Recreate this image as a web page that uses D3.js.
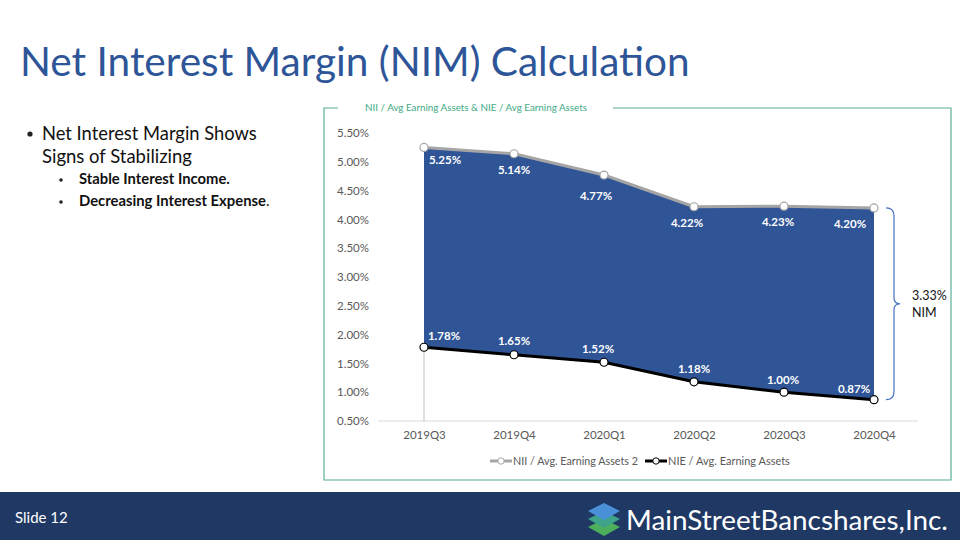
<!DOCTYPE html>
<html>
<head>
<meta charset="utf-8">
<script src="https://cdn.jsdelivr.net/npm/d3@7"></script>
<style>
  body { margin: 0; background: #fff; }
  svg { display: block; font-family: Lato, "Open Sans", sans-serif; }
</style>
</head>
<body>
<div id="slide"></div>
<script>
// chart values
let quarters = ["2019Q3", "2019Q4", "2020Q1", "2020Q2", "2020Q3", "2020Q4"];
let niiValues = [5.25, 5.14, 4.77, 4.22, 4.23, 4.20];
let nieValues = [1.78, 1.65, 1.52, 1.18, 1.00, 0.87];
let yTicks = [0.5, 1.0, 1.5, 2.0, 2.5, 3.0, 3.5, 4.0, 4.5, 5.0, 5.5];
let nimLabel = ["3.33%", "NIM"];
let legendNames = ["NII / Avg. Earning Assets 2", "NIE / Avg. Earning Assets"];

// label nudges (Excel placed them to avoid overlap)
let niiDx = [21, 0, -8, -7, -6, -24], niiDy = [17, 20, 25, 20, 20, 20];
let nieDx = [20, 0, -6, 0, -1, -20], nieDy = [-7, -10, -9, -9, -8, -7];

const W = 960, H = 540;
let svg = d3.select("#slide").append("svg")
    .attr("width", W).attr("height", H);

// fit text to a width by scaling font size
function fit(sel, width) {
    let len = sel.node().getComputedTextLength();
    let fs = parseFloat(sel.attr("font-size"));
    sel.attr("font-size", fs * width / len);
    return sel;
}

// title
fit(svg.append("text")
    .attr("x", 20).attr("y", 76)
    .attr("font-size", 40)
    .attr("fill", "#2E5597")
    .text("Net Interest Margin (NIM) Calculation"), 670);

// bullets
svg.append("circle").attr("cx", 30).attr("cy", 134).attr("r", 2.6).attr("fill", "#222");
fit(svg.append("text").attr("x", 42).attr("y", 140).attr("font-size", 17).attr("fill", "#111")
    .text("Net Interest Margin Shows"), 215);
fit(svg.append("text").attr("x", 42).attr("y", 163).attr("font-size", 17).attr("fill", "#111")
    .text("Signs of Stabilizing"), 150);
[["Stable Interest Income.", 184, 151], ["Decreasing Interest Expense", 206, 187]].forEach(b => {
    svg.append("circle").attr("cx", 61).attr("cy", b[1] - 4).attr("r", 1.8).attr("fill", "#222");
    let t = svg.append("text").attr("x", 79).attr("y", b[1]).attr("font-size", 13)
        .attr("font-weight", "bold").attr("fill", "#111").text(b[0]);
    fit(t, b[2]);
    if (b[0].startsWith("Decreasing")) t.append("tspan").attr("font-weight", "normal").text(".");
});

// chart frame
let frame = "#5BAE98";
svg.append("path")
    .attr("d", "M338,108 H324 V480 H951 V108 H613")
    .attr("fill", "none").attr("stroke", frame).attr("stroke-width", 1.2);
fit(svg.append("text").attr("x", 476).attr("y", 111).attr("text-anchor", "middle")
    .attr("font-size", 10).attr("fill", "#3DAA85")
    .text("NII / Avg Earning Assets & NIE / Avg Earning Assets"), 222);

// scales
let x = d3.scalePoint().domain(quarters).range([424, 874]);
let y = d3.scaleLinear().domain([0.5, 5.5]).range([421, 133]);

let xAxis = d3.axisBottom(x).tickSize(0).tickPadding(10);
let yAxis = d3.axisLeft(y).tickValues(yTicks).tickSize(0).tickPadding(0)
    .tickFormat(d => d3.format(".2f")(d) + "%");

svg.append("g").attr("transform", "translate(369,0)").call(yAxis)
    .call(g => g.select(".domain").remove())
    .selectAll("text").attr("font-size", 11.5).attr("fill", "#595959")
    .attr("font-family", "Lato, 'Open Sans', sans-serif");

let gx = svg.append("g").attr("transform", "translate(0,421)").call(xAxis);
gx.select(".domain").remove();
gx.selectAll("text").attr("font-size", 11.5).attr("fill", "#595959")
    .attr("font-family", "Lato, 'Open Sans', sans-serif");
svg.append("line").attr("x1", 378).attr("x2", 918).attr("y1", 421).attr("y2", 421)
    .attr("stroke", "#D9D9D9").attr("stroke-width", 1);

let data = quarters.map((q, i) => ({q: q, nii: niiValues[i], nie: nieValues[i], i: i}));

// drop line at first category
svg.append("line")
    .attr("x1", x(quarters[0])).attr("x2", x(quarters[0]))
    .attr("y1", y(nieValues[0])).attr("y2", y(0.5))
    .attr("stroke", "#BFBFBF").attr("stroke-width", 1);

// NIM band
svg.append("path").datum(data)
    .attr("d", d3.area().x(d => x(d.q)).y0(d => y(d.nie)).y1(d => y(d.nii)))
    .attr("fill", "#2F5597");

// lines + markers
function series(key, color) {
    svg.append("path").datum(data)
        .attr("d", d3.line().x(d => x(d.q)).y(d => y(d[key])))
        .attr("fill", "none").attr("stroke", color).attr("stroke-width", 3);
    svg.selectAll(".m-" + key).data(data).enter().append("circle")
        .attr("class", "m-" + key)
        .attr("cx", d => x(d.q)).attr("cy", d => y(d[key])).attr("r", 4)
        .attr("fill", "#fff").attr("stroke", color).attr("stroke-width", 1.2);
}
series("nii", "#A5A5A5");
series("nie", "#000");

// data labels
svg.selectAll(".lab-nii").data(data).enter().append("text")
    .attr("x", d => x(d.q) + niiDx[d.i]).attr("y", d => y(d.nii) + niiDy[d.i])
    .attr("text-anchor", "middle").attr("font-size", 11.5).attr("font-weight", "bold")
    .attr("fill", "#fff").text(d => d3.format(".2f")(d.nii) + "%");
svg.selectAll(".lab-nie").data(data).enter().append("text")
    .attr("x", d => x(d.q) + nieDx[d.i]).attr("y", d => y(d.nie) + nieDy[d.i])
    .attr("text-anchor", "middle").attr("font-size", 11.5).attr("font-weight", "bold")
    .attr("fill", "#fff").text(d => d3.format(".2f")(d.nie) + "%");

// brace
let bx = 886, bTop = y(niiValues[5]), bBot = y(nieValues[5]), bMid = (bTop + bBot) / 2;
svg.append("path")
    .attr("d", `M${bx},${bTop} Q${bx + 8},${bTop} ${bx + 8},${bTop + 8} V${bMid - 6} Q${bx + 8},${bMid} ${bx + 14},${bMid}
                Q${bx + 8},${bMid} ${bx + 8},${bMid + 6} V${bBot - 8} Q${bx + 8},${bBot} ${bx},${bBot}`)
    .attr("fill", "none").attr("stroke", "#4472C4").attr("stroke-width", 1.2);
nimLabel.forEach((t, i) => {
    svg.append("text").attr("x", 912).attr("y", 300 + i * 17)
        .attr("font-size", 12.5).attr("fill", "#111").text(t);
});

// legend
let legend = [{name: legendNames[0], color: "#A5A5A5", x: 490, w: 125},
              {name: legendNames[1], color: "#000", x: 645, w: 122}];
legend.forEach(l => {
    svg.append("line").attr("x1", l.x).attr("x2", l.x + 22).attr("y1", 461).attr("y2", 461)
        .attr("stroke", l.color).attr("stroke-width", 3);
    svg.append("circle").attr("cx", l.x + 11).attr("cy", 461).attr("r", 3.2)
        .attr("fill", "#fff").attr("stroke", l.color).attr("stroke-width", 1);
    fit(svg.append("text").attr("x", l.x + 23).attr("y", 465).attr("font-size", 11)
        .attr("fill", "#595959").text(l.name), l.w);
});

// footer
svg.append("rect").attr("x", 0).attr("y", 492).attr("width", W).attr("height", 48).attr("fill", "#1F3864");
svg.append("text").attr("x", 15).attr("y", 523).attr("font-size", 15).attr("fill", "#fff").text("Slide 12");

// logo mark: stacked chevrons
let chev = (cy, c) => svg.append("path")
    .attr("d", `M588,${cy} L604,${cy - 8} L620,${cy} L604,${cy + 9} Z`).attr("fill", c);
chev(527, "#4DAF5B");
chev(519, "#3FA38A");
chev(511, "#4A90D9");
fit(svg.append("text").attr("x", 626).attr("y", 530).attr("font-size", 30).attr("fill", "#fff")
    .text("MainStreetBancshares,Inc."), 322);
</script>
</body>
</html>
